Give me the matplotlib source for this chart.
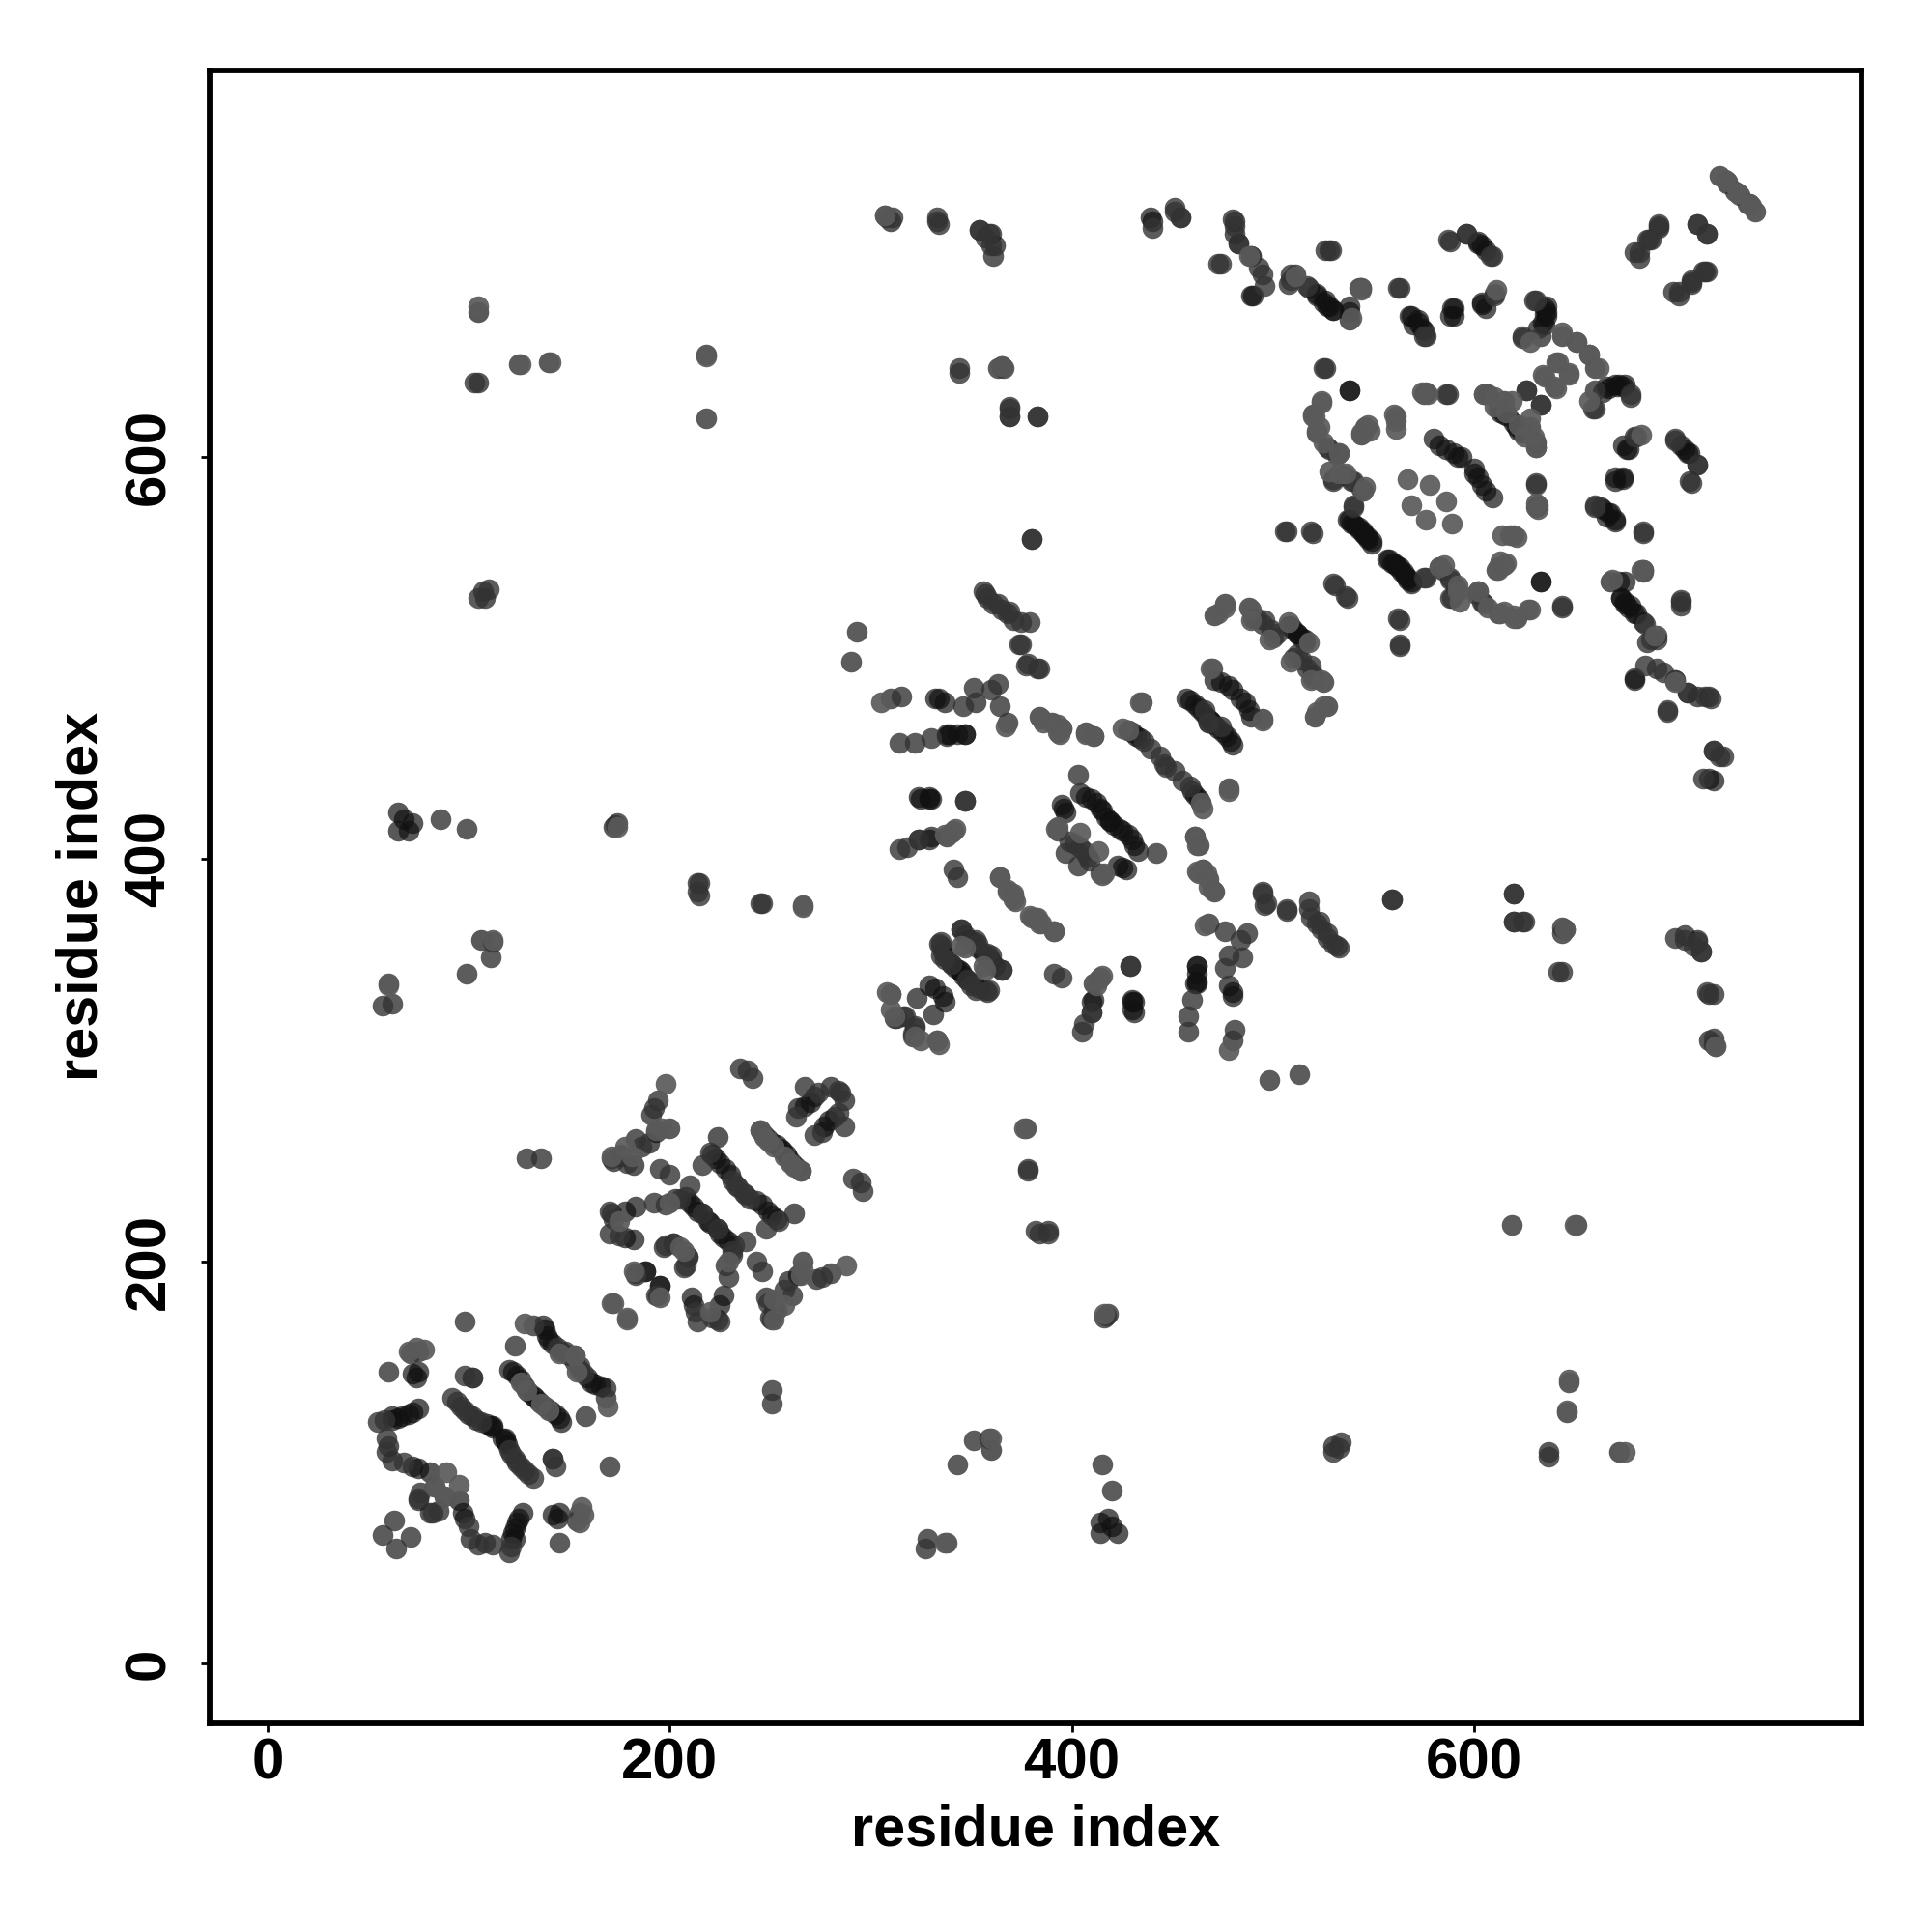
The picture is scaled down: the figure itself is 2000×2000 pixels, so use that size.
import numpy as np
import matplotlib
matplotlib.use("Agg")
import matplotlib.pyplot as plt

# residue contacts (i, j). The map is symmetric so each pair is drawn twice.
contacts_dark = [
    (74, 142), (72, 144), (75, 145), (75, 127), (72, 125), (67, 123), (62, 123),
    (60, 108), (62, 101), (72, 98), (75, 97), (81, 95), (75, 81), (102, 142),
    (100, 124), (104, 121), (109, 119), (111, 118), (112, 117), (112, 118),
    (120, 146), (122, 145), (124, 143), (126, 141), (128, 138), (130, 135), (132, 133),
    (137, 168), (138, 166), (139, 163), (140, 161), (142, 159),
    (62, 121), (65, 122), (70, 124),
    (183, 227), (178, 225), (171, 224), (182, 211), (178, 212), (188, 195), (195, 188),
    (224, 262), (221, 253), (223, 251), (225, 249), (228, 246), (230, 243),
    (208, 232), (210, 229), (212, 227), (214, 225), (216, 224), (219, 220),
    (245, 265), (247, 263), (249, 261), (251, 259), (253, 258), (255, 256),
    (270, 279), (264, 276), (280, 287), (272, 282), (267, 277),
    (172, 250), (176, 252), (182, 248), (193, 264), (190, 259),
    (332, 480), (337, 478), (352, 478), (338, 462), (347, 462), (338, 461), (343, 462),
    (325, 430), (329, 430), (329, 410), (324, 410), (330, 411),
    (428, 464), (430, 463), (432, 461), (434, 460),
    (457, 480), (459, 479), (461, 477), (463, 475), (465, 473), (467, 471), (469, 469),
    (471, 489), (474, 488), (478, 486), (480, 484),
    (395, 427), (396, 425), (397, 423), (404, 433), (407, 431), (410, 430), (412, 428), (414, 425), (415, 424), (417, 421), (419, 419),
    (345, 365), (347, 362), (349, 360), (351, 359), (353, 356),
    (335, 357), (336, 354), (338, 351), (340, 348), (342, 346), (344, 345),
    (329, 337), (332, 336), (323, 331), (330, 430), (347, 429), (324, 431), (329, 431),
    (347, 462), (334, 480), (339, 462),
    (508, 516), (510, 514), (512, 512),
    (530, 673), (525, 677), (522, 680), (527, 675), (538, 672),
    (568, 670), (572, 668), (575, 663), (570, 666), (588, 670), (590, 674), (604, 676), (606, 674),
    (636, 675), (635, 671), (634, 667), (632, 664),
    (666, 635), (670, 636), (674, 635), (672, 636),
    (538, 633), (703, 606), (705, 604), (707, 602),
    (580, 609), (583, 606), (586, 604), (590, 602), (592, 600), (594, 600),
    (615, 621), (617, 620), (622, 613), (624, 612),
    (677, 604), (670, 590), (674, 589), (664, 574), (667, 572), (670, 569),
    (537, 569), (539, 567), (541, 566), (543, 564), (545, 562), (547, 560), (549, 558),
    (557, 549), (559, 547), (561, 546), (563, 545), (565, 543), (567, 540), (569, 538),
    (633, 538), (668, 538), (675, 538), (673, 530), (675, 528), (678, 526), (681, 522), (684, 518),
    (680, 489), (509, 516),
    (481, 717), (481, 711), (483, 706), (490, 680),
    (440, 717), (333, 717), (362, 705),
    (65, 423), (65, 414), (72, 418), (68, 420), (70, 414),
    (106, 360), (108, 530), (105, 672), (105, 637), (369, 624), (380, 559),
    (360, 711), (588, 707), (596, 711), (602, 706), (719, 439), (717, 310),
]
contacts_mid = [
    (60, 145), (75, 155), (71, 154), (58, 121), (55, 120), (59, 112), (59, 105),
    (68, 100), (83, 88), (76, 85), (82, 75), (63, 71), (57, 64), (92, 132), (94, 130),
    (96, 128), (98, 126), (102, 123), (106, 120), (98, 143), (102, 142), (123, 158),
    (132, 168), (144, 157), (146, 155), (148, 155), (150, 153),
    (170, 225), (172, 221), (170, 214), (175, 213), (197, 207), (202, 209), (209, 202), (208, 198),
    (183, 194), (193, 183), (216, 224), (205, 231), (231, 240), (234, 237), (238, 233),
    (220, 254), (216, 248), (210, 238), (192, 229), (198, 228), (203, 231),
    (194, 280), (192, 276), (191, 273), (200, 266), (176, 253), (171, 251), (183, 261), (186, 257),
    (179, 249), (195, 246), (200, 243), (129, 251), (136, 251), (98, 170), (235, 296), (241, 291), (239, 295),
    (274, 284), (263, 272), (267, 287), (284, 285),
    (310, 480), (315, 481), (346, 476), (351, 485), (360, 484), (364, 476), (368, 468), (363, 487),
    (384, 471), (390, 468), (395, 465), (407, 463), (411, 461), (435, 478),
    (436, 459), (439, 455), (444, 451), (446, 447), (314, 458), (322, 458), (330, 460),
    (347, 429), (314, 405), (318, 406), (324, 410), (341, 414), (338, 411),
    (341, 395), (343, 391), (403, 442), (393, 414), (399, 409), (401, 408), (397, 403), (404, 406),
    (365, 345), (360, 352), (358, 353), (352, 335), (348, 340), (359, 335), (310, 333), (312, 321),
    (316, 322), (317, 322), (313, 321), (334, 358), (337, 350),
    (474, 466), (468, 468), (495, 384), (497, 378), (507, 375), (518, 379), (522, 368), (519, 371), (524, 365), (527, 361), (530, 358), (533, 356),
    (496, 519), (502, 512), (510, 500), (514, 499), (517, 495), (520, 492), (525, 488),
    (521, 471), (527, 476), (495, 470), (520, 490),
    (509, 688), (517, 685), (544, 684), (563, 684), (576, 660), (610, 681), (630, 678),
    (624, 659), (644, 660), (651, 657), (660, 633), (660, 624), (678, 631),
    (526, 644), (520, 621), (522, 612), (528, 604), (533, 602), (576, 632), (587, 631),
    (605, 631), (615, 628), (626, 633), (633, 626), (631, 607), (546, 615), (544, 611),
    (680, 610), (700, 609), (711, 596), (708, 587), (702, 680), (708, 687), (715, 692),
    (530, 589), (535, 591), (539, 588), (544, 584), (540, 576),
    (575, 540), (583, 545), (588, 540), (591, 535), (588, 530), (601, 532), (605, 527),
    (644, 525), (631, 586), (631, 575), (660, 575), (684, 562),
    (507, 563), (520, 562), (531, 536), (537, 530), (563, 519), (563, 506),
    (684, 543), (703, 528), (691, 511), (686, 508), (685, 496), (691, 495), (700, 489), (706, 483),
    (715, 481), (718, 480), (696, 473), (719, 454), (724, 451), (714, 440),
    (559, 380), (620, 383), (620, 369), (625, 369), (644, 366), (644, 363), (642, 344),
    (700, 361), (705, 360), (709, 357), (713, 354), (716, 334), (719, 333), (720, 307),
    (308, 719), (311, 719), (354, 713), (359, 711), (451, 722), (454, 719), (474, 696),
    (489, 700), (493, 694), (509, 691), (526, 703), (529, 703), (608, 700),
    (682, 702), (688, 708), (692, 714), (699, 682), (708, 686), (716, 692), (716, 711), (711, 716),
    (726, 736), (730, 732), (737, 726), (740, 722),
    (125, 646), (140, 647), (218, 651), (218, 619), (344, 644), (365, 645), (369, 620), (383, 620),
    (357, 532), (363, 527), (369, 523), (375, 518), (374, 507), (377, 496), (383, 495),
    (86, 420), (99, 415), (172, 416), (174, 418), (215, 388), (215, 382), (246, 378), (266, 377),
    (112, 359), (111, 351), (99, 343), (60, 338), (57, 327), (62, 328), (173, 417),
    (214, 384), (214, 388), (245, 378), (290, 498), (293, 513),
    (103, 637), (107, 533), (110, 534), (105, 530),
]
contacts_light = [
    (78, 156), (74, 157), (70, 155), (88, 83), (89, 95), (128, 169),
    (145, 154), (153, 153), (136, 129), (140, 126),
    (172, 179), (179, 171), (182, 195), (175, 220), (207, 205), (200, 229),
    (265, 245), (262, 247), (260, 249), (257, 252),
    (198, 288), (196, 266), (193, 265), (171, 252), (178, 257), (181, 252),
    (305, 478), (367, 466), (386, 468), (393, 463),
    (461, 411), (462, 407), (465, 395), (467, 393), (470, 385),
    (434, 478), (465, 425), (464, 428),
    (340, 413), (337, 412), (342, 415), (364, 391), (368, 385), (371, 382), (371, 380),
    (379, 372), (383, 371), (384, 368), (391, 364),
    (394, 462), (413, 404), (392, 415), (393, 416),
    (347, 356), (345, 357), (308, 334), (310, 325), (322, 312), (333, 310),
    (524, 489), (519, 489), (522, 473), (525, 476), (495, 469),
    (539, 669), (544, 683), (611, 683), (647, 642), (641, 647), (635, 640), (641, 634), (657, 651), (662, 644),
    (657, 628), (524, 627), (521, 620), (523, 615), (536, 592), (545, 583),
    (567, 589), (578, 586), (569, 576), (610, 625), (616, 622), (628, 619), (630, 610), (631, 605),
    (631, 577), (632, 574), (561, 620), (561, 614), (545, 612), (548, 613),
    (592, 533), (602, 533), (613, 522), (620, 520), (628, 524), (616, 547), (612, 544), (618, 561), (621, 560),
    (585, 546), (593, 528), (607, 525), (684, 544), (690, 511), (700, 488),
    (509, 498), (518, 508),
    (720, 307), (726, 737), (731, 731), (738, 725),
    (105, 675), (126, 646), (141, 647), (174, 416), (218, 650),
    (365, 645), (60, 337), (112, 360), (266, 376),
]

x_ticks = [0, 200, 400, 600]

plt.rcParams['font.family'] = ['Liberation Sans', 'DejaVu Sans']

fig = plt.figure(figsize=(10, 10), dpi=200)
ax = fig.add_axes([0.10825, 0.108, 0.85525, 0.85565])

# dark ones first, the lighter points sit on top in the reference
for contacts, color, alpha in [(contacts_dark, "#111111", 0.7), (contacts_mid, "#333333", 0.8), (contacts_light, "#5a5a5a", 0.92)]:
    pairs = np.array(contacts)
    ax.scatter(pairs[:, 0], pairs[:, 1], s=60, color=color, alpha=alpha, linewidths=0)
    ax.scatter(pairs[:, 1], pairs[:, 0], s=60, color=color, alpha=alpha, linewidths=0)

ax.set_xlim(-29, 792.7)
ax.set_ylim(-29.8, 792.3)
ax.set_xticks(x_ticks)
ax.set_yticks(x_ticks)
ax.tick_params(length=3.2, width=1, labelsize=21.6)
ax.tick_params(axis="x", pad=2)
ax.tick_params(axis="y", pad=9)
for label in ax.get_xticklabels():
    label.set_fontweight("bold")
for label in ax.get_yticklabels():
    label.set_fontweight("bold")
    label.set_rotation(90)
    label.set_va("center")
for spine in ax.spines.values():
    spine.set_linewidth(2.1)

ax.set_xlabel("residue index", fontsize=21.4, fontweight="bold", labelpad=5)
ax.set_ylabel("residue index", fontsize=21.4, fontweight="bold", labelpad=5.4)

fig.savefig("out.png", dpi=200)
